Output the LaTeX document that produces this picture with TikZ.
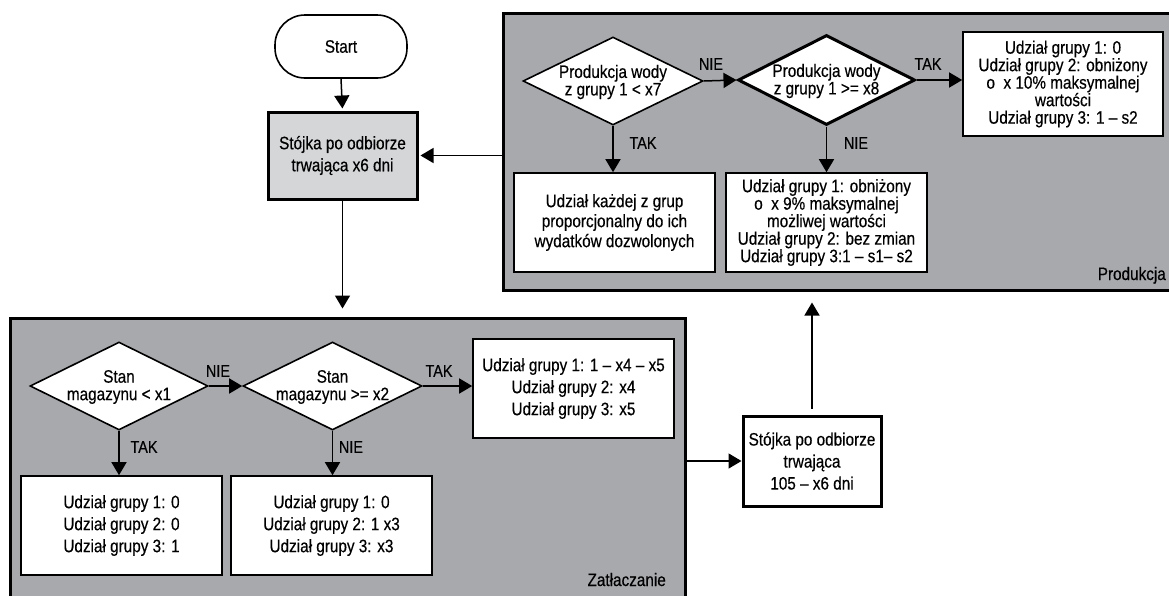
\documentclass[tikz,border=0pt]{standalone}
\usepackage{fontspec}
\setmainfont[FakeStretch=0.85,FakeBold=0.4]{Liberation Sans}
\usetikzlibrary{shapes.geometric,arrows.meta}
\definecolor{panel}{HTML}{A7A9AC}
\definecolor{lightbox}{HTML}{D5D6D8}
\begin{document}
\begin{tikzpicture}[x=1pt,y=-1pt,
  base/.style={font=\fontsize{18}{22}\selectfont, align=center, inner sep=0pt},
  mid/.style={font=\fontsize{18}{20}\selectfont, align=center, inner sep=0pt},
  dense/.style={font=\fontsize{18}{17.5}\selectfont, align=center, inner sep=0pt},
  container/.style={draw, line width=3pt, fill=panel, inner sep=0pt},
  whitebox/.style={draw, line width=1.6pt, fill=white, inner sep=0pt, minimum width=201pt, minimum height=99pt},
  thickbox/.style={draw, line width=3pt, inner sep=0pt},
  dia/.style={draw, diamond, fill=white, inner sep=0pt, line width=1.6pt},
  lbl/.style={font=\fontsize{17}{17}\selectfont, inner sep=0pt},
  conn/.style={line width=1.5pt, -{Triangle[length=13pt,width=15pt]}}]
\useasboundingbox (0,0) rectangle (1169,595);
\clip (0,0) rectangle (1169,595);

% containers
\node[container, minimum width=672pt, minimum height=277pt] (prod) at (839,151.5) {};
\node[container, minimum width=675pt, minimum height=292pt] (zat) at (347.5,464) {};
\node[base, anchor=base east] (prodlbl) at (1166,280) {Produkcja};
\node[base, anchor=base east] (zatlbl) at (666,586) {Zatłaczanie};

% start and first wait
\node[draw, line width=1.6pt, rounded corners=30pt, minimum width=132pt, minimum height=63pt, base] (start) at (341,46.5) {Start};
\node[thickbox, base, fill=lightbox, minimum width=149pt, minimum height=87pt] (s1) at (342.5,155.5) {Stójka po odbiorze\\trwająca x6 dni};

% Produkcja
\node[dia, minimum width=180pt, minimum height=88pt] (d1) at (613,81) {};
\node[dense] (d1t) at (613,82) {Produkcja wody\\z grupy 1 < x7};
\node[dia, line width=3pt, minimum width=177pt, minimum height=90pt] (d2) at (826.5,80) {};
\node[dense] (d2t) at (826.5,81) {Produkcja wody\\z grupy 1 >= x8};
\node[whitebox, dense, minimum width=200pt, minimum height=104pt] (tr) at (1063,84) {Udział grupy 1: 0\\Udział grupy 2: obniżony\\o\ \ x 10\% maksymalnej\\wartości\\Udział grupy 3: 1 – s2};
\node[whitebox, mid] (p1) at (614.5,222.5) {Udział każdej z grup\\proporcjonalny do ich\\wydatków dozwolonych};
\node[whitebox, dense] (p2) at (826.5,222.5) {Udział grupy 1: obniżony\\o\ \ x 9\% maksymalnej\\możliwej wartości\\Udział grupy 2: bez zmian\\Udział grupy 3:1 – s1– s2};

% Zatłaczanie
\node[dia, minimum width=178pt, minimum height=88pt] (d3) at (119,386) {};
\node[dense] (d3t) at (119,387) {Stan\\magazynu < x1};
\node[dia, minimum width=179pt, minimum height=88pt] (d4) at (332.5,386) {};
\node[dense] (d4t) at (332.5,387) {Stan\\magazynu >= x2};
\node[whitebox, base] (zr) at (573.5,388.5) {Udział grupy 1: 1 – x4 – x5\\Udział grupy 2: x4\\Udział grupy 3: x5};
\node[whitebox, base] (z1) at (121.5,525.5) {Udział grupy 1: 0\\Udział grupy 2: 0\\Udział grupy 3: 1};
\node[whitebox, base] (z2) at (331.5,525.5) {Udział grupy 1: 0\\Udział grupy 2: 1 x3\\Udział grupy 3: x3};

% second wait
\node[thickbox, base, fill=white, minimum width=138pt, minimum height=90pt] (s2) at (812,461) {Stójka po odbiorze\\trwająca\\105 – x6 dni};

% connectors
\draw[conn, shorten >=2pt] (start.south) -- (s1.north);
\draw[conn, shorten >=2pt] (prod.west |- s1.east) -- (s1.east);
\draw[conn, shorten >=8pt] (s1.south) -- (s1.south |- zat.north);
\draw[conn] (zat.east |- s2.west) -- (s2.west);
\draw[conn, shorten <=6pt, shorten >=11pt] (s2.north) -- (s2.north |- prod.south);

\draw[conn] (d1.east) -- (d2.west);
\draw[conn] (d2.east) -- (d2.east -| tr.west);
\draw[conn] (d1.south) -- (d1.south |- p1.north);
\draw[conn] (d2.south) -- (d2.south |- p2.north);

\draw[conn] (d3.east) -- (d4.west);
\draw[conn] (d4.east) -- (d4.east -| zr.west);
\draw[conn] (d3.south) -- (d3.south |- z1.north);
\draw[conn] (d4.south) -- (d4.south |- z2.north);

% branch labels
\node[lbl] (l1) at (711,64) {NIE};
\node[lbl] (l2) at (928,64) {TAK};
\node[lbl] (l3) at (643,143) {TAK};
\node[lbl] (l4) at (856,143) {NIE};
\node[lbl] (l5) at (218,371) {NIE};
\node[lbl] (l6) at (439,371) {TAK};
\node[lbl] (l7) at (144,447) {TAK};
\node[lbl] (l8) at (351,447) {NIE};
\end{tikzpicture}
\end{document}
